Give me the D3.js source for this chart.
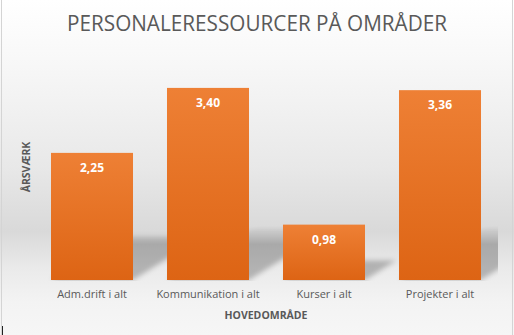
<!DOCTYPE html>
<html>
<head>
<meta charset="utf-8">
<script src="https://cdn.jsdelivr.net/npm/d3@7"></script>
<style>
  html, body { margin: 0; padding: 0; background: #fff; }
  svg { display: block; }
  text { font-family: "Open Sans", "DejaVu Sans", sans-serif; }
</style>
</head>
<body>
<svg id="chart" width="514" height="335"></svg>
<script>
// Årsværk per hovedområde
const categories = ["Adm.drift i alt", "Kommunikation i alt", "Kurser i alt", "Projekter i alt"];
const values = [2.25, 3.40, 0.98, 3.36];
const chartTitle = "PERSONALERESSOURCER PÅ OMRÅDER";
const xTitle = "HOVEDOMRÅDE";
const yTitle = "ÅRSVÆRK";

const W = 514, H = 335;
const plot = { left: 34, right: 498, top: 54, bottom: 280 };

const svg = d3.select("#chart");
const defs = svg.append("defs");

// Chart background: soft vertical grey gradient
const bg = defs.append("linearGradient").attr("id", "bgGrad")
  .attr("x1", 0).attr("y1", 0).attr("x2", 0).attr("y2", 1);
[[0, "#ffffff"], [0.2, "#f7f7f7"], [0.5, "#e8e8e8"], [0.69, "#d9d9d9"],
 [0.8, "#eaeaea"], [0.9, "#f3f3f3"], [1, "#f6f6f6"]]
  .forEach(([o, c]) => bg.append("stop").attr("offset", o).attr("stop-color", c));

// Bar fill: orange, slightly darker towards the base
const barGrad = defs.append("linearGradient").attr("id", "barGrad")
  .attr("x1", 0).attr("y1", 0).attr("x2", 0).attr("y2", 1);
barGrad.append("stop").attr("offset", 0).attr("stop-color", "#ee8035");
barGrad.append("stop").attr("offset", 1).attr("stop-color", "#dd6414");

// Soft perspective shadow, fading out towards its far end
defs.append("filter").attr("id", "shadowBlur")
  .attr("x", "-20%").attr("y", "-20%").attr("width", "140%").attr("height", "140%")
  .append("feGaussianBlur").attr("stdDeviation", 2.5);
const fade = defs.append("linearGradient").attr("id", "shadowFade")
  .attr("gradientUnits", "userSpaceOnUse")
  .attr("x1", 0).attr("y1", 226).attr("x2", 0).attr("y2", 244);
fade.append("stop").attr("offset", 0).attr("stop-color", "#fff").attr("stop-opacity", 0);
fade.append("stop").attr("offset", 1).attr("stop-color", "#fff").attr("stop-opacity", 1);
defs.append("mask").attr("id", "shadowMask")
  .attr("maskUnits", "userSpaceOnUse")
  .attr("x", 0).attr("y", 0).attr("width", W).attr("height", H)
  .append("rect").attr("x", plot.left).attr("y", 200)
  .attr("width", plot.right - plot.left).attr("height", plot.bottom - 200 + 1)
  .attr("fill", "url(#shadowFade)");

svg.append("rect").attr("width", W).attr("height", H).attr("fill", "url(#bgGrad)");
// chart frame (left / right edges)
svg.append("line").attr("x1", 1.5).attr("x2", 1.5).attr("y1", 0).attr("y2", H)
  .attr("stroke", "#d4d4d4");
svg.append("line").attr("x1", 512.5).attr("x2", 512.5).attr("y1", 0).attr("y2", H)
  .attr("stroke", "#d4d4d4");
svg.append("line").attr("x1", 2.5).attr("x2", 2.5).attr("y1", 326).attr("y2", H)
  .attr("stroke", "#222");

const x = d3.scaleBand().domain(categories).range([plot.left, plot.right])
  .paddingInner(0.293).paddingOuter(0.1465);
const y = d3.scaleLinear().domain([0, 4]).range([plot.bottom, plot.top]);

const data = categories.map((c, i) => ({ cat: c, val: values[i] }));

// Shadows cast up and to the right of each bar
const sk = 0.35, sx = 0.56;
svg.append("g").attr("mask", "url(#shadowMask)")
  .append("g").attr("filter", "url(#shadowBlur)")
  .selectAll("path").data(data).join("path")
  .attr("d", d => {
    const x0 = x(d.cat), x1 = x0 + x.bandwidth();
    const b = y(0), h = y(0) - y(d.val);
    return `M${x0},${b}L${x1},${b}L${x1 + sx * h},${b - sk * h}L${x0 + sx * h},${b - sk * h}Z`;
  })
  .attr("fill", "#000").attr("fill-opacity", 0.24);

// Bars
svg.append("g").selectAll("rect").data(data).join("rect")
  .attr("x", d => x(d.cat))
  .attr("y", d => y(d.val))
  .attr("width", x.bandwidth())
  .attr("height", d => y(0) - y(d.val))
  .attr("fill", "url(#barGrad)");

// Value labels inside the bar tops
const fmt = d3.formatLocale({ decimal: ",", thousands: ".", grouping: [3], currency: ["", " kr."] }).format(".2f");
svg.append("g").selectAll("text").data(data).join("text")
  .attr("x", d => x(d.cat) + x.bandwidth() / 2)
  .attr("y", d => y(d.val) + 19)
  .attr("text-anchor", "middle")
  .attr("fill", "#ffffff").attr("font-weight", "bold").attr("font-size", 12)
  .text(d => fmt(d.val));

// Category axis (labels only)
const xAxis = svg.append("g").attr("transform", `translate(0,${plot.bottom})`)
  .call(d3.axisBottom(x).tickSize(0).tickPadding(10));
xAxis.select(".domain").remove();
xAxis.selectAll("text")
  .attr("font-family", "Open Sans, DejaVu Sans, sans-serif")
  .attr("font-size", 11).attr("fill", "#595959");

// Titles
svg.append("text").attr("x", 257).attr("y", 31).attr("text-anchor", "middle")
  .attr("font-size", 21).attr("fill", "#595959")
  .attr("textLength", 380).attr("lengthAdjust", "spacingAndGlyphs")
  .text(chartTitle);
svg.append("text").attr("x", 266).attr("y", 319).attr("text-anchor", "middle")
  .attr("font-size", 10.5).attr("font-weight", "bold").attr("fill", "#595959")
  .text(xTitle);
svg.append("text").attr("transform", "translate(30,167) rotate(-90)")
  .attr("text-anchor", "middle")
  .attr("font-size", 10.5).attr("font-weight", "bold").attr("fill", "#595959")
  .text(yTitle);
</script>
</body>
</html>
